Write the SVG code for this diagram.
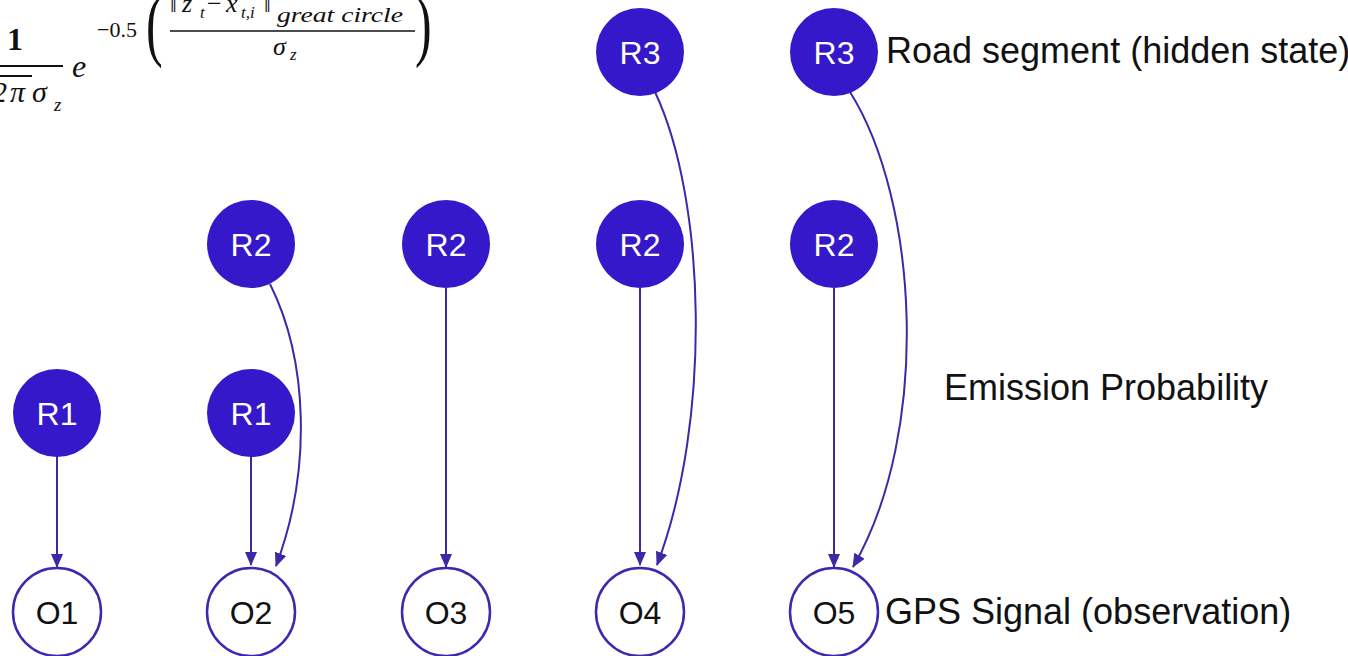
<svg xmlns="http://www.w3.org/2000/svg" width="1348" height="656" viewBox="0 0 1348 656">
<style>
.r{fill:#3418c9}
.o{fill:#fff;stroke:#3b2ab0;stroke-width:2.5}
.rl{font-family:"Liberation Sans",Arial,sans-serif;font-size:32px;fill:#fff;text-anchor:middle}
.ol{font-family:"Liberation Sans",Arial,sans-serif;font-size:32px;fill:#111;text-anchor:middle}
.lab{font-family:"Liberation Sans",Arial,sans-serif;font-size:36px;fill:#111}
.m{font-family:"Liberation Serif","Times New Roman",serif;font-style:italic;fill:#111}
.mu{font-family:"Liberation Serif","Times New Roman",serif;font-style:normal;fill:#111}
.e{fill:none;stroke:#3a2aa8;stroke-width:2}
</style>
<defs>
<marker id="ah" markerWidth="14" markerHeight="14" refX="13" refY="7" orient="auto" markerUnits="userSpaceOnUse">
<path d="M0,1 L14,7 L0,13 Z" fill="#3a2aa8"/>
</marker>
</defs>
<rect width="1348" height="656" fill="#fff"/>
<g id="formula">
<text class="mu" x="7" y="50" font-size="32" font-weight="bold">1</text>
<line x1="0" y1="66" x2="63" y2="66" stroke="#111" stroke-width="2"/>
<line x1="0" y1="76" x2="32" y2="76" stroke="#111" stroke-width="2"/>
<text class="m" x="-8" y="102" font-size="30">2</text>
<text class="m" x="10" y="102" font-size="30">π</text>
<text class="m" x="32" y="102" font-size="30">σ</text>
<text class="m" x="54" y="111" font-size="19">z</text>
<text class="m" x="72" y="77" font-size="32">e</text>
<text class="mu" x="97" y="37" font-size="22">−0.5</text>
<text class="mu" x="146" y="31.75" font-size="50" transform="scale(1,1.6)">(</text>
<text class="mu" x="170" y="12" font-size="24">‖</text>
<text class="m" x="182" y="12" font-size="26">z</text>
<text class="m" x="200" y="18" font-size="17">t</text>
<text class="mu" x="207" y="12" font-size="26">−</text>
<text class="m" x="226" y="12" font-size="26">x</text>
<text class="m" x="241" y="18" font-size="17">t,i</text>
<text class="mu" x="264" y="12" font-size="24">‖</text>
<text class="m" x="277" y="22" font-size="20" textLength="126" lengthAdjust="spacingAndGlyphs">great  circle</text>
<line x1="170" y1="31" x2="415" y2="31" stroke="#111" stroke-width="1.5"/>
<text class="m" x="273" y="55" font-size="26">σ</text>
<text class="m" x="290" y="60" font-size="17">z</text>
<text class="mu" x="415" y="31.75" font-size="50" transform="scale(1,1.6)">)</text>
</g>
<g id="connectors">
<line class="e" x1="57" y1="456" x2="57" y2="567" marker-end="url(#ah)"/>
<line class="e" x1="251" y1="456" x2="251" y2="565" marker-end="url(#ah)"/>
<line class="e" x1="446" y1="288" x2="446" y2="567" marker-end="url(#ah)"/>
<line class="e" x1="640" y1="288" x2="640" y2="565" marker-end="url(#ah)"/>
<line class="e" x1="834" y1="288" x2="834" y2="567" marker-end="url(#ah)"/>
<path class="e" d="M270,284 C308,360 312,470 276,566" marker-end="url(#ah)"/>
<path class="e" d="M655,92 C706,200 712,420 657,565" marker-end="url(#ah)"/>
<path class="e" d="M850,92 C918,200 932,430 853,567" marker-end="url(#ah)"/>
</g>
<g id="R1a"><circle class="r" cx="57" cy="413" r="44"/><text class="rl" x="57" y="425">R1</text></g>
<g id="R1b"><circle class="r" cx="251" cy="413" r="44"/><text class="rl" x="251" y="425">R1</text></g>
<g id="R2b"><circle class="r" cx="251" cy="244" r="44"/><text class="rl" x="251" y="256">R2</text></g>
<g id="R2c"><circle class="r" cx="446" cy="244" r="44"/><text class="rl" x="446" y="256">R2</text></g>
<g id="R2d"><circle class="r" cx="640" cy="244" r="44"/><text class="rl" x="640" y="256">R2</text></g>
<g id="R2e"><circle class="r" cx="834" cy="244" r="44"/><text class="rl" x="834" y="256">R2</text></g>
<g id="R3d"><circle class="r" cx="640" cy="52" r="44"/><text class="rl" x="640" y="64">R3</text></g>
<g id="R3e"><circle class="r" cx="834" cy="52" r="44"/><text class="rl" x="834" y="64">R3</text></g>
<g id="O1"><circle class="o" cx="57" cy="612" r="44"/><text class="ol" x="57" y="624">O1</text></g>
<g id="O2"><circle class="o" cx="251" cy="612" r="44"/><text class="ol" x="251" y="624">O2</text></g>
<g id="O3"><circle class="o" cx="446" cy="612" r="44"/><text class="ol" x="446" y="624">O3</text></g>
<g id="O4"><circle class="o" cx="640" cy="612" r="44"/><text class="ol" x="640" y="624">O4</text></g>
<g id="O5"><circle class="o" cx="834" cy="612" r="44"/><text class="ol" x="834" y="624">O5</text></g>
<g id="labels">
<text class="lab" x="886" y="63">Road segment (hidden state)</text>
<text class="lab" x="944" y="400">Emission Probability</text>
<text class="lab" x="885" y="624">GPS Signal (observation)</text>
</g>
</svg>
